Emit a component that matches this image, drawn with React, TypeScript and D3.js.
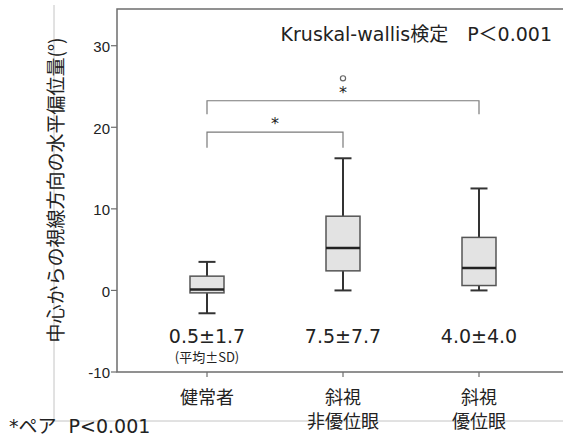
import React from 'react';
import * as d3 from 'd3';

// box plot values per group
const categories = ['健常者', '斜視非優位眼', '斜視優位眼'];
const categoryLines = [['健常者'], ['斜視', '非優位眼'], ['斜視', '優位眼']];
const whiskerLow = [-2.8, 0, 0];
const q1 = [-0.3, 2.4, 0.6];
const median = [0.1, 5.2, 2.75];
const q3 = [1.75, 9.1, 6.5];
const whiskerHigh = [3.5, 16.2, 12.5];
const outlierGroup = ['斜視非優位眼'];
const outlierValue = [26];
const meanSd = ['0.5±1.7', '7.5±7.7', '4.0±4.0'];
const yTicks = [-10, 0, 10, 20, 30];

// significance brackets: from, to, level, leg end
const bracketFrom = ['健常者', '健常者'];
const bracketTo = ['斜視非優位眼', '斜視優位眼'];
const bracketLevel = [19.4, 23.25];
const bracketLeg = [17.5, 21.6];

const W = 563;
const H = 436;
const left = 117;
const top = 9;
const bottom = 372;

const latin = '"DejaVu Sans", "Noto Sans CJK JP", sans-serif';
const cjk = '"Noto Sans CJK JP", "DejaVu Sans", sans-serif';

export default function App() {
  const y = d3.scaleLinear().domain([-10, 34.5]).range([bottom, top]);
  const x = d3.scalePoint<string>().domain(categories).range([207, 479]);
  const boxW = 34;
  const capW = 17;

  return (
    <svg width={W} height={H} style={{ position: 'absolute', left: 0, top: 0, background: '#fff' }}>
      {/* outer light frame */}
      <line x1={54} x2={54} y1={5} y2={421} stroke="#c4c4c4" strokeWidth={1} />
      <line x1={54} x2={W} y1={421} y2={421} stroke="#c4c4c4" strokeWidth={1} />

      {/* plot frame */}
      <path d={`M${W},${top}H${left}V${bottom}H${W}`} fill="none" stroke="#6e6e6e" strokeWidth={1.5} />

      {/* y axis */}
      {yTicks.map(t => (
        <g key={t}>
          <line x1={left - 6} x2={left} y1={y(t)} y2={y(t)} stroke="#6e6e6e" strokeWidth={1.2} />
          <text x={left - 7} y={y(t)} dy="0.42em" textAnchor="end" fontSize={15}
            fontFamily='"Liberation Sans", Arial, sans-serif' fill="#222">{t}</text>
        </g>
      ))}
      <text transform={`translate(63,190) rotate(-90)`} textAnchor="middle" fontSize={19}
        fontFamily={cjk} fill="#222">中心からの視線方向の水平偏位量(°)</text>

      {/* x ticks and labels */}
      {categories.map((c, i) => (
        <g key={c}>
          <line x1={x(c)} x2={x(c)} y1={bottom} y2={bottom + 5} stroke="#6e6e6e" strokeWidth={1.2} />
          {categoryLines[i].map((l, j) => (
            <text key={j} x={x(c)} y={404 + j * 24} textAnchor="middle" fontSize={18}
              fontFamily={cjk} fill="#222">{l}</text>
          ))}
          <text x={x(c)} y={343} textAnchor="middle" fontSize={19} fontFamily={latin} fill="#222">{meanSd[i]}</text>
        </g>
      ))}
      <text x={x(categories[0])} y={362} textAnchor="middle" fontSize={13} fontFamily={cjk} fill="#222">(平均±SD)</text>

      {/* boxes */}
      {categories.map((c, i) => {
        const cx = x(c) as number;
        return (
          <g key={c}>
            <line x1={cx} x2={cx} y1={y(whiskerHigh[i])} y2={y(q3[i])} stroke="#333" strokeWidth={2} />
            <line x1={cx} x2={cx} y1={y(q1[i])} y2={y(whiskerLow[i])} stroke="#333" strokeWidth={2} />
            <line x1={cx - capW / 2} x2={cx + capW / 2} y1={y(whiskerHigh[i])} y2={y(whiskerHigh[i])} stroke="#333" strokeWidth={2} />
            <line x1={cx - capW / 2} x2={cx + capW / 2} y1={y(whiskerLow[i])} y2={y(whiskerLow[i])} stroke="#333" strokeWidth={2} />
            <rect x={cx - boxW / 2} y={y(q3[i])} width={boxW} height={y(q1[i]) - y(q3[i])}
              fill="#e3e3e3" stroke="#555" strokeWidth={1.5} />
            <line x1={cx - boxW / 2} x2={cx + boxW / 2} y1={y(median[i])} y2={y(median[i])} stroke="#222" strokeWidth={2.5} />
          </g>
        );
      })}

      {/* outliers */}
      {outlierGroup.map((g, i) => (
        <circle key={i} cx={x(g)} cy={y(outlierValue[i])} r={2.6} fill="none" stroke="#666" strokeWidth={1.2} />
      ))}

      {/* brackets */}
      {bracketFrom.map((f, i) => {
        const x1 = x(f) as number;
        const x2 = x(bracketTo[i]) as number;
        const yl = y(bracketLevel[i]);
        const yb = y(bracketLeg[i]);
        return (
          <g key={i}>
            <path d={`M${x1},${yb}V${yl}H${x2}V${yb}`} fill="none" stroke="#7a7a7a" strokeWidth={1.2} />
            <text x={(x1 + x2) / 2} y={yl - 3} textAnchor="middle" fontSize={16} fontFamily={latin} fill="#222">*</text>
          </g>
        );
      })}

      {/* annotations */}
      <text x={552} y={41} textAnchor="end" fontSize={19} fontFamily={latin} fill="#222">Kruskal-wallis検定　P＜0.001</text>
      <text x={9} y={433} fontSize={19} fontFamily={latin} fill="#222">{'*ペア\u00a0\u00a0P<0.001'}</text>
    </svg>
  );
}
